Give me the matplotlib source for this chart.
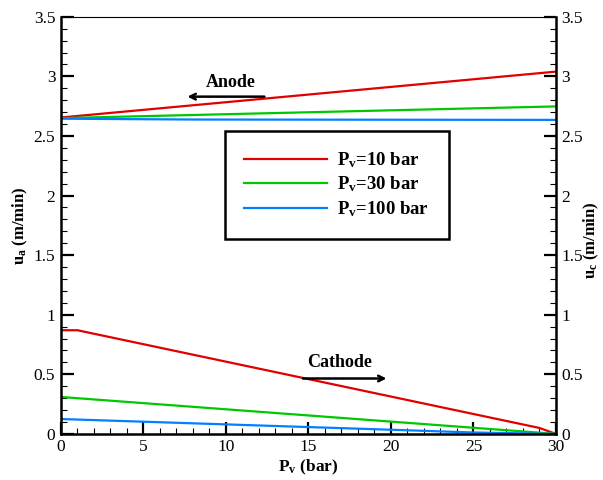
import matplotlib

matplotlib.use("Agg")
import matplotlib.pyplot as plt
from matplotlib.ticker import MultipleLocator

plt.rcParams["font.family"] = ["Liberation Serif", "DejaVu Serif"]
plt.rcParams["mathtext.fontset"] = "custom"
plt.rcParams["mathtext.rm"] = "Liberation Serif:bold"
plt.rcParams["mathtext.bf"] = "Liberation Serif:bold"
plt.rcParams["mathtext.it"] = "Liberation Serif:bold"

# vapour pressure along the channel (bar)
pv_anode = [0, 30]
pv_red_cath = [0, 1, 29, 30]
pv_green_cath = [0, 30]
pv_blue_cath = [0, 10, 20, 25, 30]
pv_blue_anode = [0, 8, 30]

# anode velocity u_a (m/min)
ua_10 = [2.655, 3.04]
ua_30 = [2.65, 2.748]
ua_100 = [2.645, 2.638, 2.635]

# cathode velocity u_c (m/min)
uc_10 = [0.87, 0.87, 0.05, 0.0]
uc_30 = [0.31, 0.0]
uc_100 = [0.125, 0.08, 0.035, 0.012, 0.0]

labels = [r"P$_\mathrm{v}$=10 bar", r"P$_\mathrm{v}$=30 bar", r"P$_\mathrm{v}$=100 bar"]
colors = ["#e00000", "#00c800", "#0080ff"]

fig = plt.figure(figsize=(6.03, 4.8), dpi=100)
ax = fig.add_axes([0.101, 0.096, 0.821, 0.869])

lw = 1.6
ax.plot(pv_anode, ua_10, color=colors[0], lw=lw, label=labels[0])
ax.plot(pv_anode, ua_30, color=colors[1], lw=lw, label=labels[1])
ax.plot(pv_blue_anode, ua_100, color=colors[2], lw=lw, label=labels[2])
ax.plot(pv_red_cath, uc_10, color=colors[0], lw=lw)
ax.plot(pv_green_cath, uc_30, color=colors[1], lw=lw)
ax.plot(pv_blue_cath, uc_100, color=colors[2], lw=lw)

ax.set_xlim(0, 30)
ax.set_ylim(0, 3.5)
ax.xaxis.set_major_locator(MultipleLocator(5))
ax.xaxis.set_minor_locator(MultipleLocator(1))
ax.yaxis.set_major_locator(MultipleLocator(0.5))
ax.yaxis.set_minor_locator(MultipleLocator(0.1))
ax.yaxis.set_major_formatter(plt.FuncFormatter(lambda v, p: f"{v:g}"))

ax.tick_params(which="both", direction="in", labelsize=12.5, top=False,
               right=True, labelright=True, colors="black")
ax.tick_params(which="major", length=9, width=1.6, pad=4)
ax.tick_params(which="minor", length=4.5, width=0.8)

for side in ["left", "right", "bottom"]:
    ax.spines[side].set_linewidth(1.8)
ax.spines["top"].set_linewidth(0.8)

ax.set_xlabel(r"P$_\mathrm{v}$ (bar)", fontsize=12.5, fontweight="bold", labelpad=2)
ax.set_ylabel(r"u$_\mathrm{a}$ (m/min)", fontsize=12, fontweight="bold", labelpad=3)
# right-hand axis title for the cathode side
fig.text(0.981, 0.50, r"u$_\mathrm{c}$ (m/min)", fontsize=12, fontweight="bold",
         rotation=90, ha="center", va="center")

# flow direction markers
ax.annotate("", xy=(7.5, 2.83), xytext=(12.5, 2.83),
            arrowprops=dict(arrowstyle="->", color="black", lw=1.8))
ax.text(10.3, 2.95, "Anode", fontsize=13, fontweight="bold", ha="center", va="center")
ax.annotate("", xy=(19.9, 0.465), xytext=(14.5, 0.465),
            arrowprops=dict(arrowstyle="->", color="black", lw=1.8))
ax.text(16.9, 0.6, "Cathode", fontsize=13, fontweight="bold", ha="center", va="center")

leg = ax.legend(loc="upper left", bbox_to_anchor=(0.331, 0.727),
                prop={"weight": "bold", "size": 13.5}, handlelength=4.4,
                handletextpad=0.55, borderpad=1.05, labelspacing=0.25,
                fancybox=False, framealpha=1, borderaxespad=0)
leg.get_frame().set_edgecolor("black")
leg.get_frame().set_linewidth(1.8)

fig.savefig("out.png", dpi=100)
